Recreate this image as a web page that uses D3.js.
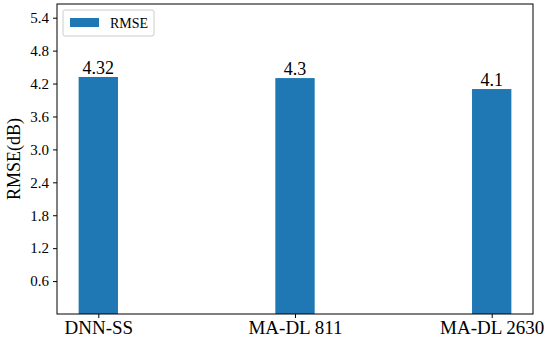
<!DOCTYPE html>
<html>
<head>
<meta charset="utf-8">
<script src="https://d3js.org/d3.v7.min.js"></script>
<style>
  body { margin: 0; background: #fff; }
  svg { display: block; font-family: "Liberation Serif", "Times New Roman", serif; }
</style>
</head>
<body>
<svg id="chart" width="550" height="346"></svg>
<script>
const categories = ["DNN-SS", "MA-DL 811", "MA-DL 2630"];
const rmse = [4.32, 4.3, 4.1];
const yTicks = [0.6, 1.2, 1.8, 2.4, 3.0, 3.6, 4.2, 4.8, 5.4];

const serif = "'Liberation Serif', 'Times New Roman', serif";
const width = 550, height = 346,
  margin = {top: 4, right: 17, bottom: 32, left: 57},
  barColor = "#1f77b4";

const svg = d3.select("#chart");

// x is a linear scale over category index, like matplotlib bars
const x = d3.scaleLinear()
  .domain([-0.21, categories.length - 1 + 0.21])
  .range([margin.left, width - margin.right]);
const y = d3.scaleLinear()
  .domain([0, 5.65])
  .range([height - margin.bottom, margin.top]);
const barW = x(0.2) - x(0);

// bars
svg.selectAll(".bar")
  .data(rmse)
  .enter()
  .append("rect")
    .attr("class", "bar")
    .attr("x", (d, i) => x(i) - barW / 2)
    .attr("y", d => y(d))
    .attr("width", barW)
    .attr("height", d => y(0) - y(d))
    .style("fill", barColor);

// value labels
svg.selectAll(".val")
  .data(rmse)
  .enter()
  .append("text")
    .attr("x", (d, i) => x(i))
    .attr("y", d => y(d) - 3)
    .attr("text-anchor", "middle")
    .attr("font-size", 18)
    .attr("fill", "#000")
    .text(d => d);

// axes
const xAxis = d3.axisBottom(x)
  .tickValues(categories.map((d, i) => i))
  .tickFormat(i => categories[i])
  .tickSize(4).tickPadding(3);
const gX = svg.append("g")
  .attr("transform", "translate(0," + (height - margin.bottom) + ")")
  .call(xAxis)
  .attr("font-family", serif)
  .attr("font-size", 19);
gX.select(".domain").remove();
gX.selectAll("text").attr("fill", "#000");

const yAxis = d3.axisLeft(y)
  .tickValues(yTicks)
  .tickFormat(d3.format(".1f"))
  .tickSize(4).tickPadding(4);
const gY = svg.append("g")
  .attr("transform", "translate(" + margin.left + ",0)")
  .call(yAxis)
  .attr("font-family", serif)
  .attr("font-size", 15);
gY.select(".domain").remove();
gY.selectAll("text").attr("fill", "#000");

// frame
svg.append("rect")
  .attr("x", margin.left)
  .attr("y", margin.top)
  .attr("width", width - margin.left - margin.right)
  .attr("height", height - margin.top - margin.bottom)
  .style("fill", "none")
  .style("stroke", "#000")
  .style("stroke-width", 1);

// y axis title
svg.append("text")
  .attr("transform", "rotate(-90)")
  .attr("x", -(margin.top + (height - margin.top - margin.bottom) / 2))
  .attr("y", 20)
  .attr("text-anchor", "middle")
  .attr("font-size", 18)
  .attr("fill", "#000")
  .text("RMSE(dB)");

// legend
const legend = svg.append("g").attr("transform", "translate(63,10)");
legend.append("rect")
  .attr("width", 91).attr("height", 26).attr("rx", 2)
  .style("fill", "#fff").style("stroke", "#ccc");
legend.append("rect")
  .attr("x", 7).attr("y", 8).attr("width", 29).attr("height", 9)
  .style("fill", barColor);
legend.append("text")
  .attr("x", 47).attr("y", 18)
  .attr("font-size", 14)
  .attr("fill", "#000")
  .text("RMSE");
</script>
</body>
</html>
